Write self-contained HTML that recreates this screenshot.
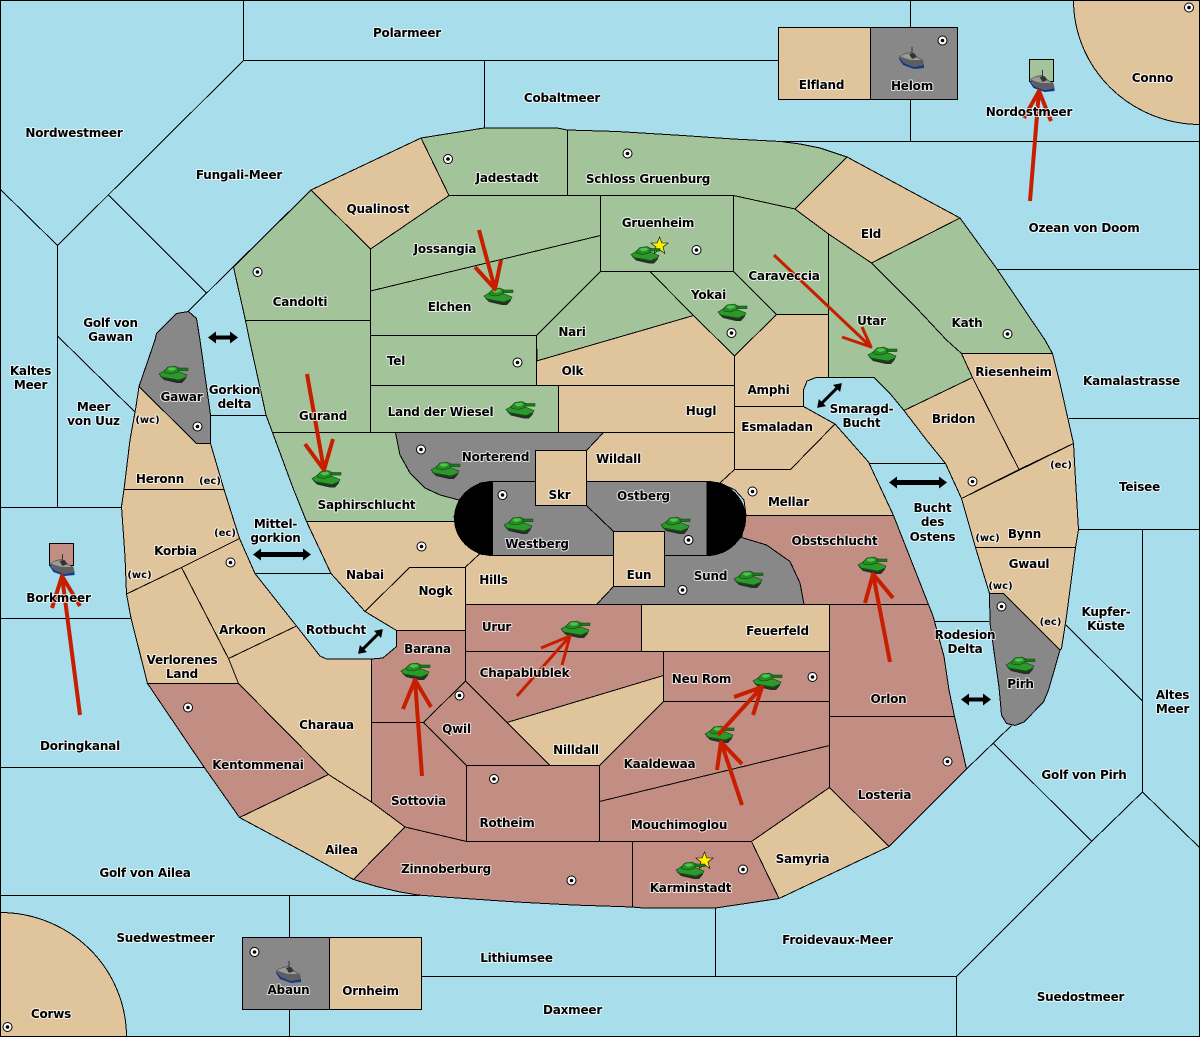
<!DOCTYPE html>
<html><head><meta charset="utf-8"><title>Map</title>
<style>
html,body{margin:0;padding:0;background:#A8DDEB}
svg{display:block}
.b{stroke:#000;stroke-width:1;shape-rendering:crispEdges}
.s{fill:#A8DDEB}.t{fill:#E0C49C}.g{fill:#A3C39A}.r{fill:#C28D83}.y{fill:#888}
polyline,line.b{fill:none}
text{font-family:"DejaVu Sans","Liberation Sans",sans-serif;font-weight:bold;font-size:12px;letter-spacing:-.2px;text-anchor:middle;fill:#000;paint-order:stroke;stroke:#fff;stroke-opacity:.75;stroke-width:2px;stroke-linejoin:round}
text.m{font-size:10px;letter-spacing:0}
.a{fill:none;stroke:#C81E00;stroke-width:4;stroke-linejoin:round}
</style></head><body>
<svg xmlns="http://www.w3.org/2000/svg" width="1200" height="1037" viewBox="0 0 1200 1037">
<defs>
<g id="d"><circle r="5" fill="#000"/><circle r="4" fill="#fff"/><circle r="1.8" fill="#000"/></g>
<g id="k">
<polygon points="1,10 22,13 27,11 27,12.5 23,17 18,17 5,14" fill="#2a2a2a"/>
<polygon points="0,8 5,5 18,5 28,9 27,11 20,14 3,11" fill="#2b9a2b" stroke="#0c3f0c" stroke-width=".6"/>
<polygon points="1,10 3,11 20,14 27,11 27,12 20,15 3,12" fill="#145214"/>
<polygon points="5,5 9,1 16,0 20,2 19,6 12,8 6,7" fill="#268c26" stroke="#0c3f0c" stroke-width=".6"/>
<polygon points="8,3 11,1.5 16,1.5 17,3.5 12,5" fill="#4ec44e"/>
<rect x="19" y="2" width="10" height="2.6" fill="#1c7a1c" stroke="#0c3f0c" stroke-width=".5"/>
</g>
<g id="h">
<polygon points="0,10 5,16 15,20 25,18 25,21 15,22 4,18 0,12" fill="#123a8c"/>
<polygon points="0,9 7,6 12,5 17,9 24,13 25,18 15,20 5,16" fill="#5e5e5e"/>
<polygon points="1,9 7,7 12,6 17,10 22,13 12,13 5,11" fill="#9a9a9a"/>
<line x1="13" y1="0" x2="13" y2="7" stroke="#333" stroke-width="1"/>
<polygon points="10,7 15,6 18,10 13,12" fill="#333"/>
</g>
<polygon id="st" points="0,-9 2.3,-3 8.5,-3 3.5,1 5.3,7.5 0,3.5 -5.3,7.5 -3.5,1 -8.5,-3 -2.3,-3" fill="#FFF200" stroke="#000" stroke-width=".6"/>
</defs>

<rect x="0" y="0" width="1200" height="1037" class="s"/>

<!-- sea borders -->
<g class="b" fill="none">
<polyline points="243.5,0 243.5,60.5 57.5,245.5 0,189"/>
<line x1="243" y1="60.5" x2="778" y2="60.5"/>
<line x1="57.5" y1="245" x2="57.5" y2="507.5"/>
<line x1="108.5" y1="195" x2="206.5" y2="293"/>
<polyline points="311,190 233,267 188,311.5"/>
<line x1="57.5" y1="336" x2="135" y2="412"/>
<line x1="0" y1="507.5" x2="122" y2="507.5"/>
<line x1="0" y1="618.5" x2="131" y2="618.5"/>
<line x1="0" y1="767.5" x2="204" y2="767.5"/>
<line x1="0" y1="895.5" x2="420" y2="895.5"/>
<line x1="289.5" y1="895" x2="289.5" y2="937"/>
<line x1="289.5" y1="1009" x2="289.5" y2="1037"/>
<line x1="421" y1="976.5" x2="956.5" y2="976.5"/>
<line x1="715.5" y1="908" x2="715.5" y2="976"/>
<line x1="956.5" y1="976" x2="956.5" y2="1037"/>
<polyline points="956.5,976.5 1091.5,841.5 1142.5,792 1200,848"/>
<line x1="993.5" y1="743.5" x2="1091.5" y2="841"/>
<line x1="1142.5" y1="792" x2="1142.5" y2="530"/>
<polyline points="1011.5,725.5 966.5,769 889,846.5"/>
<line x1="1066" y1="625" x2="1142.5" y2="701"/>
<line x1="1078" y1="529.5" x2="1200" y2="529.5"/>
<line x1="1069" y1="418.5" x2="1200" y2="418.5"/>
<line x1="997" y1="269.5" x2="1200" y2="269.5"/>
<line x1="781" y1="141.5" x2="1200" y2="141.5"/>
<line x1="910.5" y1="0" x2="910.5" y2="27"/>
<line x1="910.5" y1="99" x2="910.5" y2="141"/>
<line x1="484.5" y1="60" x2="484.5" y2="128"/>
<line x1="210.5" y1="415.5" x2="266" y2="415.5"/>
<line x1="255" y1="573.5" x2="331" y2="573.5"/>
<line x1="934" y1="621.5" x2="989" y2="621.5"/>
<line x1="868" y1="463.5" x2="946" y2="463.5"/>
</g>

<!-- corners -->
<path class="b t" d="M1073.5,0 A127,124.5 0 0 0 1200,124.5 L1200,0 Z"/>
<path class="b t" d="M0,912.5 A126.5,124.5 0 0 1 126.5,1037 L0,1037 Z"/>

<!-- island boxes -->
<g class="b">
<rect class="t" x="778.5" y="27.5" width="92" height="72"/>
<rect class="y" x="870.5" y="27.5" width="87" height="72"/>
<rect class="y" x="242.5" y="937.5" width="87" height="72"/>
<rect class="t" x="329.5" y="937.5" width="92" height="72"/>
<rect class="g" x="1029.5" y="59.5" width="24" height="22"/>
<rect class="r" x="49.5" y="543.5" width="24" height="22"/>
</g>

<!-- territories -->
<g class="b">
<polygon class="g" points="233.5,267 311,190 370.5,249 370.5,320.5 245.5,320.5"/>
<polygon class="t" points="311,190 421,138 449,195.5 370.5,249"/>
<polygon class="g" points="421,138 484,128 557,128 567.5,130 567.5,195.5 449,195.5"/>
<polygon class="g" points="567.5,130 617,131.5 683,135.5 733,139 781,141.5 800,144 820,148 847,157 795,209 733.5,195.5 567.5,195.5"/>
<polygon class="t" points="847,157 960,218 871.5,263 828.5,234 795,209"/>
<polygon class="g" points="960,218 997,269 1045,340 1052.5,353.5 961.5,353.5 946.5,340 916.5,308 871.5,263"/>
<polygon class="g" points="828.5,234 871.5,263 916.5,308 946.5,340 961.5,353.5 972.5,377.5 904,410.5 890,393.5 874,377.5 828.5,377.5"/>
<polygon class="g" points="733.5,195.5 795,209 828.5,234 828.5,314.5 776.5,314.5 733.5,271.5"/>
<polygon class="g" points="600.5,195.5 733.5,195.5 733.5,271.5 600.5,271.5"/>
<polygon class="g" points="650,271.5 733.5,271.5 776.5,314.5 734.5,356 693.5,315.5"/>
<polygon class="g" points="600.5,271.5 650,271.5 693.5,315.5 537,361 536.5,335.5"/>
<polygon class="g" points="370.5,249 449,195.5 600.5,195.5 600.5,235.5 370.5,291"/>
<polygon class="g" points="370.5,291 600.5,235.5 600.5,271.5 536.5,335.5 370.5,335.5"/>
<polygon class="g" points="370.5,335.5 536.5,335.5 536.5,385.5 370.5,385.5"/>
<polygon class="g" points="370.5,385.5 558.5,385.5 558.5,432.5 370.5,432.5"/>
<polygon class="t" points="536.5,361 693.5,315.5 734.5,356 734.5,385.5 536.5,385.5"/>
<polygon class="t" points="558.5,385.5 734.5,385.5 734.5,432.5 558.5,432.5"/>
<polygon class="g" points="245.5,320.5 370.5,320.5 370.5,432.5 272.5,432.5 266,415 249.5,340"/>
<polygon class="g" points="272.5,432.5 395.5,432.5 400,455 410,473 425,488 440,495 459,500 454,517 456.5,521.5 306.5,521.5 293,488"/>
<polygon class="y" points="395.5,432.5 603.5,432.5 586.5,450.5 535.5,450.5 535.5,481.5 493,481.5 480,483 459,500 440,495 425,488 410,473 400,455"/>
<polygon class="t" points="586.5,450.5 603.5,432.5 734.5,432.5 734.5,469.5 720,483 707,481.5 586.5,481.5"/>
<polygon class="t" points="734.5,406.5 803.5,406.5 835,424 790.5,469.5 734.5,469.5"/>
<polygon class="t" points="734.5,356 776.5,314.5 828.5,314.5 828.5,377.5 816,377.5 807,381 803.5,390 803.5,406.5 734.5,406.5"/>
<polygon class="t" points="835,424 868.5,462 893.5,515.5 746,515.5 744,500 735,490 720,483 734.5,469.5 790.5,469.5"/>
<polygon class="r" points="746,515.5 893.5,515.5 928.5,604.5 804,604.5 800,583 790,561.5 766.5,545 741.5,537.5"/>
<polygon class="y" points="664.5,555.5 707,555.5 741.5,537.5 766.5,545 790,561.5 800,583 804,604.5 596.5,604.5 613.5,586.5 664.5,586.5"/>
<polygon class="t" points="306.5,521.5 456.5,521.5 459,527 470,545 479.5,554 465.5,567.5 409.5,567.5 365,611.5 331,573.5"/>
<polygon class="t" points="492.5,555.5 613.5,555.5 613.5,586.5 596.5,604.5 465.5,604.5 465.5,567 479.5,554"/>
<polygon class="t" points="409.5,567.5 465.5,567.5 465.5,630.5 396.5,630.5 365,611.5"/>
<polygon class="r" points="465.5,604.5 641.5,604.5 641.5,651.5 465.5,651.5"/>
<polygon class="t" points="641.5,604.5 829.5,604.5 829.5,651.5 641.5,651.5"/>
<polygon class="r" points="371.5,659 383,658 396.5,646.5 396.5,630.5 465.5,630.5 465.5,681 423.5,722.5 371.5,722.5"/>
<polygon class="r" points="371.5,722.5 423.5,722.5 466.5,765.5 466.5,841.5 405,827 371.5,802"/>
<polygon class="r" points="465.5,651.5 663.5,651.5 663.5,675.5 507,722.5 465.5,681"/>
<polygon class="r" points="465.5,681 507,722.5 550,765.5 466.5,765.5 423.5,722.5"/>
<polygon class="t" points="507,722.5 663.5,675.5 663.5,701.5 599.5,765.5 550,765.5"/>
<polygon class="r" points="663.5,651.5 829.5,651.5 829.5,701.5 663.5,701.5"/>
<polygon class="r" points="663.5,701.5 829.5,701.5 829.5,745.5 599.5,801.5 599.5,765.5"/>
<polygon class="r" points="599.5,801.5 829.5,745.5 829.5,787.5 751.5,841.5 599.5,841.5"/>
<polygon class="r" points="466.5,765.5 599.5,765.5 599.5,841.5 466.5,841.5"/>
<polygon class="r" points="405,827 466.5,841.5 632.5,841.5 632.5,907 573,905 516.5,902 450,897.5 418,895 400,892 376.5,886.5 353.5,879.5"/>
<polygon class="r" points="632.5,841.5 751.5,841.5 779,898.5 715.5,908 643,908 632.5,907"/>
<polygon class="t" points="751.5,841.5 829.5,787.5 889,846.5 779,898.5"/>
<polygon class="r" points="829.5,716.5 954.5,716.5 966.5,769 889,846.5 829.5,787.5"/>
<polygon class="r" points="829.5,604.5 928.5,604.5 933,616 944,656.5 949,690 954.5,716.5 829.5,716.5"/>
<polygon class="t" points="296.5,626 320,656 326.5,659 371.5,659 371.5,802 328.5,774.5 238.5,683.5 228.5,658.5"/>
<polygon class="t" points="181.5,567.5 239.5,538.5 255,573.5 296.5,626 228.5,658.5"/>
<polygon class="t" points="121.5,506.5 124,489.5 224,489.5 239.5,538.5 181.5,567.5 126.5,594 125,556.5"/>
<polygon class="t" points="139,386.5 196.5,443.5 210.5,443.5 224,489.5 124,489.5 130,440 136,406.5"/>
<polygon class="y" points="156.5,333.5 176.5,313.5 188.5,311.5 196.5,318.5 200,340 210.5,415 210.5,443.5 196.5,443.5 139,386.5 155,340"/>
<polygon class="t" points="126.5,594 181.5,567.5 228.5,658.5 238.5,683.5 147.5,683.5 131,618"/>
<polygon class="r" points="147.5,683.5 238.5,683.5 328.5,774.5 239.5,817.5 204,767"/>
<polygon class="t" points="239.5,817.5 328.5,774.5 371.5,802 405,827 353.5,879.5 300,850"/>
<polygon class="y" points="989.5,593.5 1003.5,593.5 1060,650 1048.5,690 1043.5,702 1024,722 1015,725.5 1006.5,723.5 1001.5,715 999,687 990,623"/>
<polygon class="t" points="975.5,547.5 1075.5,547.5 1066.5,616.5 1061.5,648.5 1060,650 1003.5,593.5 989.5,593.5"/>
<polygon class="t" points="961.5,498.5 1073.5,443.5 1075.5,480 1078.5,529.5 1075.5,547.5 975.5,547.5"/>
<polygon class="t" points="961.5,353.5 1052.5,353.5 1060,383.5 1073.5,443.5 1019,469.5 972.5,377.5"/>
<polygon class="t" points="972.5,377.5 1019,469.5 961.5,498.5 945.5,463.5 926.5,440 904,410.5"/>

<!-- central ridge -->
<polygon class="y" points="492.5,481.5 535.5,481.5 535.5,505.5 586.5,505.5 613.5,531.5 613.5,555.5 492.5,555.5"/>
<polygon class="y" points="586.5,481.5 707,481.5 707,555.5 664.5,555.5 664.5,531.5 613.5,531.5 586.5,505.5"/>
<rect class="t" x="535.5" y="450.5" width="51" height="55"/>
<rect class="t" x="613.5" y="531.5" width="51" height="55"/>
</g>
<path d="M493,481 A39,37.5 0 0 0 493,556 Z" fill="#000" shape-rendering="crispEdges"/>
<path d="M707,481 A39,37.5 0 0 1 707,556 Z" fill="#000" shape-rendering="crispEdges"/>

<!-- frame -->
<rect x=".5" y=".5" width="1199" height="1036" fill="none" stroke="#000" shape-rendering="crispEdges"/>

<!-- supply dots -->
<use href="#d" x="257.5" y="272"/><use href="#d" x="448" y="159"/><use href="#d" x="627.5" y="153.5"/>
<use href="#d" x="696.5" y="250"/><use href="#d" x="731.5" y="333"/><use href="#d" x="517.5" y="362.5"/>
<use href="#d" x="942.5" y="40.5"/><use href="#d" x="1189" y="7.5"/><use href="#d" x="1007.5" y="334"/>
<use href="#d" x="197.5" y="426.5"/><use href="#d" x="230.5" y="562.5"/><use href="#d" x="421" y="449.5"/>
<use href="#d" x="502.5" y="495"/><use href="#d" x="688.5" y="540"/><use href="#d" x="421.5" y="546.5"/>
<use href="#d" x="752.5" y="491.5"/><use href="#d" x="682.5" y="590"/><use href="#d" x="972.5" y="481.5"/>
<use href="#d" x="1001.5" y="606.5"/><use href="#d" x="812.5" y="677"/><use href="#d" x="459.5" y="695.5"/>
<use href="#d" x="188" y="707.5"/><use href="#d" x="7.5" y="1027"/><use href="#d" x="254.5" y="952"/>
<use href="#d" x="494" y="779"/><use href="#d" x="571.5" y="880.5"/><use href="#d" x="743" y="869.5"/>
<use href="#d" x="947.5" y="761.5"/>

<!-- black arrows -->
<g fill="#000">
<polygon transform="translate(223,337.5)" points="-15,0 -7,-6 -7,-2 7,-2 7,-6 15,0 7,6 7,2 -7,2 -7,6"/>
<polygon transform="translate(282,554.5)" points="-29,0 -21,-6 -21,-2.5 21,-2.5 21,-6 29,0 21,6 21,2.5 -21,2.5 -21,6"/>
<polygon transform="translate(918,482.5)" points="-29,0 -21,-6 -21,-2.5 21,-2.5 21,-6 29,0 21,6 21,2.5 -21,2.5 -21,6"/>
<polygon transform="translate(976,699.5)" points="-15,0 -7,-6 -7,-2 7,-2 7,-6 15,0 7,6 7,2 -7,2 -7,6"/>
<polygon transform="translate(370.5,641.5) rotate(-45)" points="-17.5,0 -10,-5 -10,-1.5 10,-1.5 10,-5 17.5,0 10,5 10,1.5 -10,1.5 -10,5"/>
<polygon transform="translate(829.5,395.5) rotate(-45)" points="-17.5,0 -10,-5 -10,-1.5 10,-1.5 10,-5 17.5,0 10,5 10,1.5 -10,1.5 -10,5"/>
</g>

<!-- units -->
<use href="#st" x="659.5" y="246"/><use href="#st" x="704.5" y="861"/>
<use href="#k" x="159" y="366"/><use href="#k" x="312" y="470.5"/><use href="#k" x="484" y="288"/>
<use href="#k" x="631" y="246.5"/><use href="#k" x="718" y="304"/><use href="#k" x="506" y="401.5"/>
<use href="#k" x="868" y="347"/><use href="#k" x="431" y="462"/><use href="#k" x="504" y="517"/>
<use href="#k" x="661" y="517"/><use href="#k" x="734" y="571"/><use href="#k" x="561" y="621"/>
<use href="#k" x="401" y="663"/><use href="#k" x="753" y="673"/><use href="#k" x="705" y="726"/>
<use href="#k" x="858" y="557"/><use href="#k" x="1006" y="657"/><use href="#k" x="676" y="862"/>
<use href="#h" x="899" y="47"/><use href="#h" x="1029.5" y="70"/><use href="#h" x="49.5" y="554"/><use href="#h" x="276" y="961"/>

<!-- red arrows -->
<g class="a">
<path d="M479,230 L495,289 M475,267 L495,289 L501,260"/>
<path stroke-width="3" d="M774,255 L871,347 M842,337 L871,347 L862,327"/>
<path d="M1030,201 L1039,91 M1024,118 L1039,91 L1051,121"/>
<path d="M307,374 L324,470 M305,444 L324,470 L333,439"/>
<path d="M80,715 L62,576 M52,608 L62,576 L80,606"/>
<path stroke-width="3" d="M517,696 L570,636 M541,648 L570,636 L562,665"/>
<path d="M422,776 L415,680 M403,709 L415,680 L431,707"/>
<path d="M718,735 L762,687 M734,697 L762,687 L753,715"/>
<path d="M742,805 L721,742 M717,770 L721,742 L742,764"/>
<path d="M890,662 L873,574 M865,603 L873,574 L893,598"/>
</g>

<!-- labels -->
<g>
<text x="407" y="37">Polarmeer</text>
<text x="562" y="102">Cobaltmeer</text>
<text x="74" y="137">Nordwestmeer</text>
<text x="239" y="179">Fungali-Meer</text>
<text x="378" y="213">Qualinost</text>
<text x="507" y="182">Jadestadt</text>
<text x="648" y="183">Schloss Gruenburg</text>
<text x="821.5" y="89">Elfland</text>
<text x="912" y="90">Helom</text>
<text x="1152.5" y="82">Conno</text>
<text x="1029" y="116">Nordostmeer</text>
<text x="1084" y="232">Ozean von Doom</text>
<text x="871" y="238">Eld</text>
<text x="658" y="227">Gruenheim</text>
<text x="445" y="253">Jossangia</text>
<text x="784" y="280">Caraveccia</text>
<text x="708.5" y="299">Yokai</text>
<text x="967" y="327">Kath</text>
<text x="871.5" y="325">Utar</text>
<text x="300" y="306">Candolti</text>
<text x="449.5" y="311">Elchen</text>
<text x="572" y="336">Nari</text>
<text x="396" y="365">Tel</text>
<text x="572.5" y="375">Olk</text>
<text x="440.5" y="416">Land der Wiesel</text>
<text x="701" y="415">Hugl</text>
<text x="768.5" y="394">Amphi</text>
<text x="777" y="431">Esmaladan</text>
<text x="110.5" y="327">Golf von</text>
<text x="110.5" y="341">Gawan</text>
<text x="181.5" y="401">Gawar</text>
<text x="234.5" y="394">Gorkion</text>
<text x="234.5" y="408">delta</text>
<text x="30.5" y="375">Kaltes</text>
<text x="30.5" y="389">Meer</text>
<text x="93.5" y="411">Meer</text>
<text x="93.5" y="425">von Uuz</text>
<text class="m" x="147.5" y="423">(wc)</text>
<text x="160" y="483">Heronn</text>
<text class="m" x="210" y="484">(ec)</text>
<text x="323" y="420">Gurand</text>
<text x="366.5" y="509">Saphirschlucht</text>
<text x="275.5" y="528">Mittel-</text>
<text x="275.5" y="542">gorkion</text>
<text class="m" x="225" y="536">(ec)</text>
<text x="175.5" y="555">Korbia</text>
<text class="m" x="139.5" y="578">(wc)</text>
<text x="58.5" y="602">Borkmeer</text>
<text x="365" y="579">Nabai</text>
<text x="435.5" y="595">Nogk</text>
<text x="242.5" y="634">Arkoon</text>
<text x="336" y="634">Rotbucht</text>
<text x="182" y="664">Verlorenes</text>
<text x="182" y="678">Land</text>
<text x="493.5" y="584">Hills</text>
<text x="495.5" y="461">Norterend</text>
<text x="618.5" y="463">Wildall</text>
<text x="559.5" y="499">Skr</text>
<text x="643.5" y="500">Ostberg</text>
<text x="537" y="548">Westberg</text>
<text x="639" y="579">Eun</text>
<text x="710.5" y="580">Sund</text>
<text x="788.5" y="506">Mellar</text>
<text x="834.5" y="545">Obstschlucht</text>
<text x="777.5" y="635">Feuerfeld</text>
<text x="496.5" y="631">Urur</text>
<text x="427.5" y="653">Barana</text>
<text x="524.5" y="677">Chapablublek</text>
<text x="701.5" y="683">Neu Rom</text>
<text x="456.5" y="733">Qwil</text>
<text x="576" y="754">Nilldall</text>
<text x="659.5" y="768">Kaaldewaa</text>
<text x="326.5" y="729">Charaua</text>
<text x="258" y="769">Kentommenai</text>
<text x="418.5" y="805">Sottovia</text>
<text x="507" y="827">Rotheim</text>
<text x="679" y="829">Mouchimoglou</text>
<text x="888.5" y="703">Orlon</text>
<text x="884.5" y="799">Losteria</text>
<text x="802.5" y="863">Samyria</text>
<text x="341.5" y="854">Ailea</text>
<text x="446" y="873">Zinnoberburg</text>
<text x="690.5" y="892">Karminstadt</text>
<text x="145" y="877">Golf von Ailea</text>
<text x="80" y="750">Doringkanal</text>
<text x="165.5" y="942">Suedwestmeer</text>
<text x="51" y="1018">Corws</text>
<text x="288.5" y="994">Abaun</text>
<text x="370.5" y="995">Ornheim</text>
<text x="516.5" y="962">Lithiumsee</text>
<text x="572.5" y="1014">Daxmeer</text>
<text x="837.5" y="944">Froidevaux-Meer</text>
<text x="1080.5" y="1001">Suedostmeer</text>
<text x="1084" y="779">Golf von Pirh</text>
<text x="1172.5" y="699">Altes</text>
<text x="1172.5" y="713">Meer</text>
<text x="1106" y="616">Kupfer-</text>
<text x="1106" y="630">Küste</text>
<text x="965" y="639">Rodesion</text>
<text x="965" y="653">Delta</text>
<text x="1020.5" y="688">Pirh</text>
<text x="932.5" y="512">Bucht</text>
<text x="932.5" y="526">des</text>
<text x="932.5" y="541">Ostens</text>
<text x="861.5" y="413">Smaragd-</text>
<text x="861.5" y="427">Bucht</text>
<text x="1013.5" y="376">Riesenheim</text>
<text x="1131.5" y="385">Kamalastrasse</text>
<text x="953.5" y="423">Bridon</text>
<text x="1139.5" y="491">Teisee</text>
<text class="m" x="1061" y="468">(ec)</text>
<text class="m" x="987.5" y="541">(wc)</text>
<text x="1024.5" y="538">Bynn</text>
<text x="1029" y="568">Gwaul</text>
<text class="m" x="1000.5" y="589">(wc)</text>
<text class="m" x="1050.5" y="625">(ec)</text>
</g>
</svg>
</body></html>
